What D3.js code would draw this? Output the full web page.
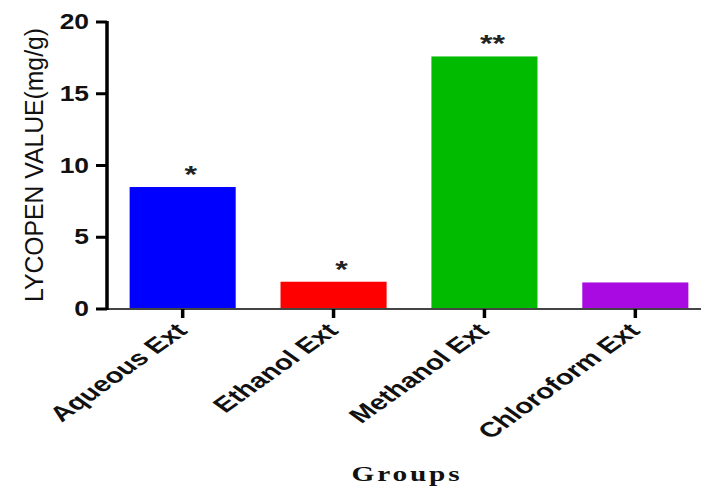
<!DOCTYPE html>
<html>
<head>
<meta charset="utf-8">
<script src="https://cdn.jsdelivr.net/npm/d3@7"></script>
<style>
	body{margin:0;background:#fff;}
	svg{display:block;}
</style>
</head>
<body>
<script>
var groups = ["Aqueous Ext","Ethanol Ext","Methanol Ext","Chloroform Ext"];
var lycopen = [8.5, 1.9, 17.6, 1.85];
var marks = ["*","*","**",""];
var barColors = ["#0000ff","#ff0000","#00bb00","#aa0ae2"];
var yTicks = [0,5,10,15,20];

var W = 701, H = 487;
var stretch = 1.4; // the picture is wider than it is tall

var svg = d3.select("body")
			.append("svg")
			.attr("width",W)
			.attr("height",H);

var x = d3.scaleBand()
		.domain(groups)
		.range([107,711])
		.paddingInner(0.297)
		.paddingOuter(0.15);

var y = d3.scaleLinear()
		.domain([0,20])
		.range([309,22]);

// bars
svg.selectAll("rect.bar")
	.data(lycopen)
	.enter()
	.append("rect")
	.attr("class","bar")
	.attr("x",function(d,i){return x(groups[i]);})
	.attr("y",function(d){return y(d);})
	.attr("width",x.bandwidth())
	.attr("height",function(d){return y(0)-y(d);})
	.attr("fill",function(d,i){return barColors[i];});

// stars
svg.selectAll("g.star")
	.data(lycopen)
	.enter()
	.append("g")
	.attr("class","star")
	.attr("transform",function(d,i){
		return "translate("+(x(groups[i])+x.bandwidth()/2+8)+","+(y(d)-4)+") scale("+stretch+",1)";
	})
	.append("text")
	.attr("text-anchor","middle")
	.attr("font-family","Liberation Sans, Arial, sans-serif")
	.attr("font-weight","bold")
	.attr("font-size",23)
	.attr("fill","#222")
	.text(function(d,i){return marks[i];});

// x axis
svg.append("line")
	.attr("x1",97).attr("x2",W)
	.attr("y1",y(0)).attr("y2",y(0))
	.attr("stroke","#444")
	.attr("stroke-width",2);

svg.selectAll("line.xtick")
	.data(groups)
	.enter()
	.append("line")
	.attr("class","xtick")
	.attr("x1",function(d){return x(d)+x.bandwidth()/2;})
	.attr("x2",function(d){return x(d)+x.bandwidth()/2;})
	.attr("y1",y(0))
	.attr("y2",y(0)+9)
	.attr("stroke","#000")
	.attr("stroke-width",3.5);

svg.selectAll("g.xlab")
	.data(groups)
	.enter()
	.append("g")
	.attr("class","xlab")
	.attr("transform",function(d){
		return "translate("+(x(d)+x.bandwidth()/2+6)+",332) scale("+stretch+",1) rotate(-45)";
	})
	.append("text")
	.attr("text-anchor","end")
	.attr("font-family","Liberation Sans, Arial, sans-serif")
	.attr("font-weight","bold")
	.attr("font-size",21)
	.attr("fill","#111")
	.text(function(d){return d;});

// y axis
svg.append("line")
	.attr("x1",107).attr("x2",107)
	.attr("y1",y(20)-1).attr("y2",y(0)+1)
	.attr("stroke","#000")
	.attr("stroke-width",3.5);

svg.selectAll("line.ytick")
	.data(yTicks)
	.enter()
	.append("line")
	.attr("class","ytick")
	.attr("x1",96).attr("x2",107)
	.attr("y1",function(d){return y(d);})
	.attr("y2",function(d){return y(d);})
	.attr("stroke","#000")
	.attr("stroke-width",3);

svg.selectAll("g.ylab")
	.data(yTicks)
	.enter()
	.append("g")
	.attr("class","ylab")
	.attr("transform",function(d){return "translate(89,"+(y(d)+7)+") scale(1.2,1)";})
	.append("text")
	.attr("text-anchor","end")
	.attr("font-family","Liberation Sans, Arial, sans-serif")
	.attr("font-weight","bold")
	.attr("font-size",22)
	.attr("fill","#111")
	.text(function(d){return d;});

// axis titles
svg.append("text")
	.attr("transform","translate(43,165) rotate(-90)")
	.attr("text-anchor","middle")
	.attr("font-family","Liberation Sans, Arial, sans-serif")
	.attr("font-size",25)
	.attr("textLength",274)
	.attr("lengthAdjust","spacingAndGlyphs")
	.attr("fill","#111")
	.text("LYCOPEN VALUE(mg/g)");

svg.append("g")
	.attr("transform","translate(407,481) scale("+stretch+",1)")
	.append("text")
	.attr("text-anchor","middle")
	.attr("font-family","Liberation Serif, Times New Roman, serif")
	.attr("font-weight","bold")
	.attr("font-size",21)
	.attr("letter-spacing",2)
	.attr("fill","#111")
	.text("Groups");
</script>
</body>
</html>
